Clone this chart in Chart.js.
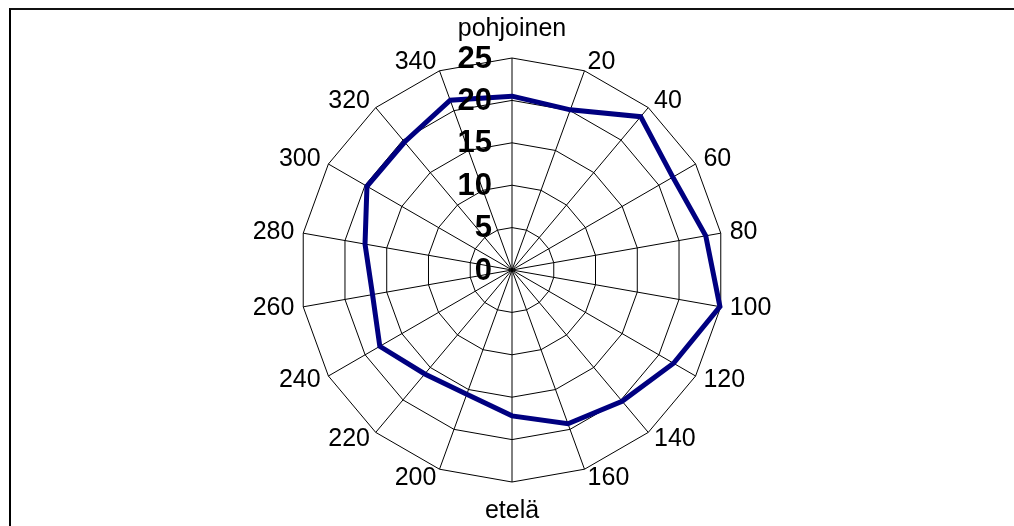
<!DOCTYPE html>
<html>
<head>
<meta charset="utf-8">
<script src="https://cdn.jsdelivr.net/npm/chart.js@4/dist/chart.umd.min.js"></script>
<style>
  html, body { margin: 0; padding: 0; background: #fff; }
  #wrap { position: relative; width: 1014px; height: 526px; overflow: hidden; }
  #frame { position: absolute; left: 9px; top: 8px; width: 1100px; height: 600px;
           border-top: 2px solid #111; border-left: 2px solid #000; box-sizing: border-box; pointer-events: none; }
  canvas { position: absolute; left: 0; top: 0; }
</style>
</head>
<body>
<div id="wrap">
  <canvas id="c" width="1014" height="526"></canvas>
  <div id="frame"></div>
</div>
<script>
// Categories (compass directions, degrees)
const categories = ['pohjoinen', '20', '40', '60', '80', '100', '120', '140', '160',
                    'etelä', '200', '220', '240', '260', '280', '300', '320', '340'];
// Series values
const values = [20.5, 20.1, 23.6, 21.9, 23.2, 24.9, 22.0, 20.2, 19.3,
                17.2, 15.6, 16.0, 18.0, 16.7, 17.6, 19.75, 19.7, 21.3];
// Radial axis ticks
const tickMin = 0;
const tickMax = 25;
const tickStep = 5;

const labelFont = '25px "Liberation Sans", Arial, sans-serif';
const tickFont = 'bold 31px "Liberation Sans", Arial, sans-serif';

const customLabels = {
  id: 'customLabels',
  afterDraw(chart) {
    const scale = chart.scales.r;
    const ctx = chart.ctx;
    ctx.save();
    // point labels
    ctx.font = labelFont;
    ctx.fillStyle = '#000';
    const n = chart.data.labels.length;
    chart.data.labels.forEach((lab, i) => {
      const deg = i * 360 / n;
      const p = scale.getPointPosition(i, scale.drawingArea + 9);
      let x = p.x, y = p.y;
      if (deg === 0) {
        ctx.textAlign = 'center'; ctx.textBaseline = 'alphabetic';
        y = scale.yCenter - scale.drawingArea - 22;
      } else if (deg === 180) {
        ctx.textAlign = 'center'; ctx.textBaseline = 'alphabetic';
        y = scale.yCenter + scale.drawingArea + 36;
      } else {
        ctx.textAlign = deg < 180 ? 'left' : 'right';
        ctx.textBaseline = 'middle';
      }
      ctx.fillText(lab, x, y);
    });
    // tick labels
    ctx.font = tickFont;
    ctx.textAlign = 'right';
    ctx.textBaseline = 'middle';
    scale.ticks.forEach(t => {
      const d = scale.getDistanceFromCenterForValue(t.value);
      ctx.fillText(String(t.value), scale.xCenter - 20, scale.yCenter - d + 1);
    });
    ctx.restore();
  }
};

new Chart(document.getElementById('c'), {
  type: 'radar',
  data: {
    labels: categories,
    datasets: [{
      data: values,
      borderColor: '#000080',
      borderWidth: 5,
      borderJoinStyle: 'miter',
      fill: false,
      pointRadius: 0,
      pointHoverRadius: 0,
      tension: 0
    }]
  },
  options: {
    responsive: false,
    animation: false,
    devicePixelRatio: 1,
    layout: { padding: { top: 58, bottom: 44, left: 10, right: 0 } },
    plugins: { legend: { display: false }, tooltip: { enabled: false } },
    scales: {
      r: {
        min: tickMin,
        max: tickMax,
        beginAtZero: true,
        ticks: { stepSize: tickStep, display: false },
        grid: { color: '#000', lineWidth: 1, circular: false },
        angleLines: { color: '#000', lineWidth: 1 },
        pointLabels: { display: false }
      }
    }
  },
  plugins: [customLabels]
});
</script>
</body>
</html>
